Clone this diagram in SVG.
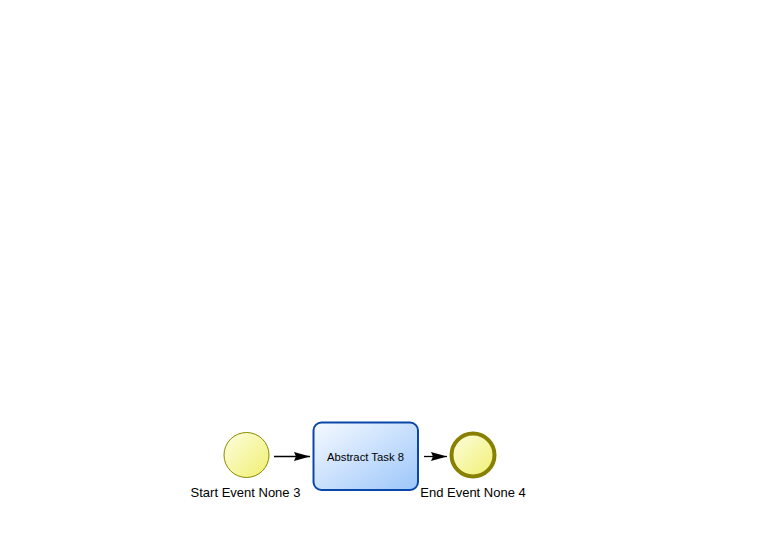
<svg xmlns="http://www.w3.org/2000/svg" width="759" height="533" viewBox="0 0 759 533">
<style>
.lbl{font-family:"Liberation Sans",Arial,sans-serif;font-size:13px;fill:#000;text-anchor:middle}
.tlbl{font-family:"Liberation Sans",Arial,sans-serif;font-size:11.3px;fill:#000;text-anchor:middle}
.flow{stroke:#000;stroke-width:1.3;fill:none}
</style>
<defs>
<linearGradient id="gy" x1="0" y1="0" x2="1" y2="1">
<stop offset="0" stop-color="#fdfde0"/>
<stop offset="1" stop-color="#f0f070"/>
</linearGradient>
<linearGradient id="gb" x1="0" y1="0" x2="1" y2="1">
<stop offset="0" stop-color="#f6faff"/>
<stop offset="1" stop-color="#9cc6fa"/>
</linearGradient>
<marker id="ah" viewBox="0 0 16 10" refX="16" refY="5" markerWidth="16" markerHeight="10" markerUnits="userSpaceOnUse" orient="auto">
<path d="M0,0.5 L16,5 L0,9.5 L2,5 Z" fill="#000"/>
</marker>
</defs>
<rect width="759" height="533" fill="#fff"/>
<g id="connectors">
<line class="flow" x1="274" y1="456.5" x2="310" y2="456.5" marker-end="url(#ah)"/>
<line class="flow" x1="424" y1="456.5" x2="447" y2="456.5" marker-end="url(#ah)"/>
</g>
<g id="start">
<circle cx="246.5" cy="455" r="22.5" fill="url(#gy)" stroke="#8a8a00" stroke-width="1"/>
<text class="lbl" x="245.5" y="497">Start Event None 3</text>
</g>
<g id="task">
<rect x="313.5" y="422.5" width="104.5" height="67.5" rx="8" fill="url(#gb)" stroke="#0a47a8" stroke-width="2"/>
<text class="tlbl" x="365.5" y="461">Abstract Task 8</text>
</g>
<g id="end">
<circle cx="473" cy="455" r="21.5" fill="url(#gy)" stroke="#878000" stroke-width="4"/>
<text class="lbl" x="473" y="497">End Event None 4</text>
</g>
</svg>
